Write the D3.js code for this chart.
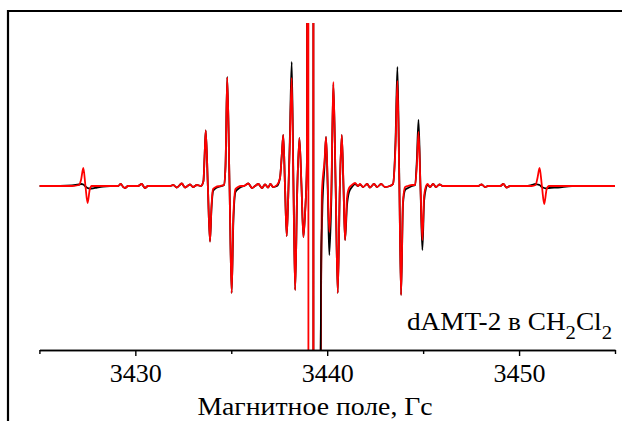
<!DOCTYPE html>
<html>
<head>
<meta charset="utf-8">
<script src="https://cdn.jsdelivr.net/npm/d3@7"></script>
<style>
  html, body { margin: 0; padding: 0; background: #fff; }
  svg { display: block; }
  text { font-family: "Liberation Serif", "Times New Roman", serif; fill: #000; }
</style>
</head>
<body>
<svg id="chart" width="622" height="421"></svg>
<script>
// Magnetic field grid, G
const field = [
  3425.00, 3426.07, 3426.70, 3427.06, 3427.17, 3427.29, 3427.40, 3427.51, 3427.62, 3427.72,
  3428.00, 3428.32, 3428.68, 3429.10, 3429.24, 3429.35, 3429.46, 3429.62, 3430.14, 3430.33,
  3430.50, 3430.66, 3431.81, 3431.98, 3432.16, 3432.42, 3432.59, 3432.85, 3433.01, 3433.21,
  3433.42, 3433.55, 3433.61, 3433.67, 3433.78, 3433.89, 3433.97, 3434.05, 3434.20, 3434.41,
  3434.62, 3434.70, 3434.79, 3434.91, 3435.02, 3435.11, 3435.22, 3435.35, 3435.51, 3435.66,
  3435.89, 3436.08, 3436.24, 3436.41, 3436.60, 3436.76, 3436.92, 3437.04, 3437.18, 3437.38,
  3437.54, 3437.63, 3437.71, 3437.80, 3437.89, 3437.97, 3438.05, 3438.15, 3438.24, 3438.33,
  3438.43, 3438.55, 3438.66, 3438.76, 3438.85, 3438.94, 3439.01, 3439.03, 3439.27, 3439.28,
  3439.29, 3439.62, 3439.66, 3439.69, 3439.72, 3439.75, 3439.78, 3439.86, 3439.94, 3440.03,
  3440.11, 3440.22, 3440.32, 3440.44, 3440.55, 3440.66, 3440.76, 3440.85, 3440.93, 3441.03,
  3441.14, 3441.29, 3441.45, 3441.61, 3441.71, 3441.87, 3442.08, 3442.23, 3442.44, 3442.60,
  3442.81, 3443.01, 3443.27, 3443.43, 3443.56, 3443.66, 3443.76, 3443.85, 3443.95, 3444.06,
  3444.21, 3444.42, 3444.58, 3444.67, 3444.76, 3444.86, 3444.96, 3445.05, 3445.15, 3445.23,
  3445.36, 3445.52, 3445.67, 3445.85, 3446.03, 3447.86, 3448.05, 3448.23, 3448.39, 3449.02,
  3449.18, 3449.35, 3449.53, 3450.31, 3450.66, 3450.86, 3450.96, 3451.07, 3451.19, 3451.31,
  3451.44, 3451.56, 3452.03, 3452.76, 3455.00
];

// Recorded spectrum (first-derivative signal, arb. units)
const experimental = [
  0, 0, 0.5, 1.5, 2, 1.5, -0.5, -2, -2.5, -2.5,
  -1.5, -0.5, 0, 0, 2, -0.5, -2, 0, 0, 2,
  -2, 0, 0, 1, -1.5, 2.5, -1.5, 1.5, -1, 1,
  0, 5, 30, 55.5, 0, -55.5, -22, -5, -2, -0.5,
  1, 20, 109, 0, -107, -35, -6, -3, -1, 0,
  2.5, -2, 0, 2, -2, 1.5, -1.5, 2, -1, 0,
  8, 30, 51, 0, -50, -10, 45, 124, 5, -104,
  -10, 48, 0, -51, -26, 21, 2000, 2000, 2000, 0,
  -2000, -2000, -180, -80, -45, -20, -5, 20, 49, -5,
  -69, -10, 102, 0, -107, 0, 51, -2, -54, -20,
  -6, -1, 2, 0, 1.5, -1, 2, -1.5, 2, -1,
  2, -1, 0, 2, 45, 119, 5, -109, -18, -4,
  -2, 0, 1, 25, 66, 0, -64, -15, -2, 1,
  -1, 2, -1, 1.5, 0, 0, 1.5, -1, 0, 0,
  2, -1.5, 0, 0, 1, 2, 1.5, 1, -1, -2,
  -2.5, -2, -1.5, 0, 0
];

// Simulated spectrum (same field grid)
const simulated = [
  0, 0, 0, 1, 6, 18, 0, -17, -4, 0,
  0, 0, 0, 0, 2, -0.5, -2, 0, 0, 2,
  -2, 0, 0, 1, -1.5, 2.5, -1.5, 1.5, -1, 1,
  0, 5, 30, 55.5, 0, -55.5, -20, -3, -1, 0,
  1, 20, 108.5, 0, -107, -30, -3, -1, 0, 0,
  2.5, -2, 0, 2, -2, 1.5, -1.5, 2, -1, 1,
  8, 30, 51, 0, -50, -10, 40, 108, 0, -104,
  -10, 48, 0, -51, -26, 21, 2000, -2000, -2000, 2000,
  -2000, -2000, -180, -80, -10, 3, 10, 25, 49, 0,
  -46, 0, 104, 0, -107, 0, 51, 0, -54, -12,
  -2, 1, 3, 0, 2, -1, 2, -1.5, 2, -1,
  2, -1, 0, 2, 40, 105, 0, -109, -15, -1,
  0, 1, 1, 20, 54, 0, -54, -10, 0, 2,
  -1, 2, -1, 1.5, 0, 0, 1.5, -1, 0, 0,
  2, -1.5, 0, 0, 0, 1, 8, 18, 0, -18,
  -3, 0, 0, 0, 0
];

const majorTicks = [3430, 3440, 3450];
const minorTicks = [3425, 3435, 3445, 3455];
const xTitle = "Магнитное поле, Гс";
const sampleLabel = [
  { text: "dAMT-2 в CH", sub: false },
  { text: "2", sub: true },
  { text: "Cl", sub: false },
  { text: "2", sub: true }
];
// Field window where the recorded trace is laid over the simulation
const centreWindow = [3439.55, 3439.71];

const svg = d3.select("#chart");

// Plot box
const plot = { left: 39.4, right: 615, top: 23, bottom: 350 };

const x = d3.scaleLinear().domain([3425, 3455]).range([plot.left, plot.right]);
const y = d3.scaleLinear().domain([-164, 163]).range([plot.bottom, plot.top]);

// Page frame (top and left rules)
svg.append("path")
  .attr("d", "M8,421 L8,11 L622,11")
  .attr("fill", "none")
  .attr("stroke", "#000")
  .attr("stroke-width", 2.2);

const defs = svg.append("defs");
defs.append("clipPath").attr("id", "plotClip")
  .append("rect")
  .attr("x", plot.left).attr("y", plot.top)
  .attr("width", plot.right - plot.left)
  .attr("height", plot.bottom - plot.top);
defs.append("clipPath").attr("id", "centreClip")
  .append("rect")
  .attr("x", x(centreWindow[0])).attr("y", plot.top)
  .attr("width", x(centreWindow[1]) - x(centreWindow[0]))
  .attr("height", plot.bottom - plot.top);

const line = d3.line()
  .x(d => x(d[0]))
  .y(d => y(d[1]))
  .curve(d3.curveMonotoneX);

const expData = field.map((f, i) => [f, experimental[i]]);
const simData = field.map((f, i) => [f, simulated[i]]);

const traces = svg.append("g").attr("clip-path", "url(#plotClip)");

function drawTrace(g, data, colour) {
  return g.append("path")
    .datum(data)
    .attr("d", line)
    .attr("fill", "none")
    .attr("stroke", colour)
    .attr("stroke-width", 1.8)
    .attr("stroke-linejoin", "round");
}

drawTrace(traces, expData, "#000");
drawTrace(traces, simData, "#ff0000");
// recorded trace on top around the central line
drawTrace(traces.append("g").attr("clip-path", "url(#centreClip)"), expData, "#000");

// Bottom axis: minor ticks, then labelled major ticks
const minorAxis = d3.axisBottom(x)
  .tickValues(minorTicks)
  .tickSize(4)
  .tickSizeOuter(0)
  .tickFormat("");

const majorAxis = d3.axisBottom(x)
  .tickValues(majorTicks)
  .tickSize(6)
  .tickSizeOuter(0)
  .tickPadding(7.5)
  .tickFormat(d3.format("d"));

const gMinor = svg.append("g")
  .attr("transform", `translate(0,${plot.bottom})`)
  .call(minorAxis);

const gMajor = svg.append("g")
  .attr("transform", `translate(0,${plot.bottom})`)
  .call(majorAxis);

[gMinor, gMajor].forEach(g => {
  g.select(".domain").attr("stroke", "#000").attr("stroke-width", 1.4);
  g.selectAll(".tick line").attr("stroke", "#000").attr("stroke-width", 1.4);
});
gMajor.selectAll(".tick text")
  .attr("font-size", 26)
  .attr("fill", "#000");

// Axis title
svg.append("g")
  .attr("transform", "translate(315,415) scale(1.11,1)")
  .append("text")
  .attr("text-anchor", "middle")
  .attr("font-size", 25)
  .text(xTitle);

// Sample label with subscripts
const label = svg.append("g")
  .attr("transform", "translate(612,330) scale(1.09,1)")
  .append("text")
  .attr("text-anchor", "end")
  .attr("font-size", 25);

sampleLabel.forEach((part, i) => {
  const prevSub = i > 0 && sampleLabel[i - 1].sub;
  const span = label.append("tspan").text(part.text);
  if (part.sub) {
    span.attr("font-size", 19).attr("dy", 9);
  } else if (prevSub) {
    span.attr("dy", -9);
  }
});
</script>
</body>
</html>
